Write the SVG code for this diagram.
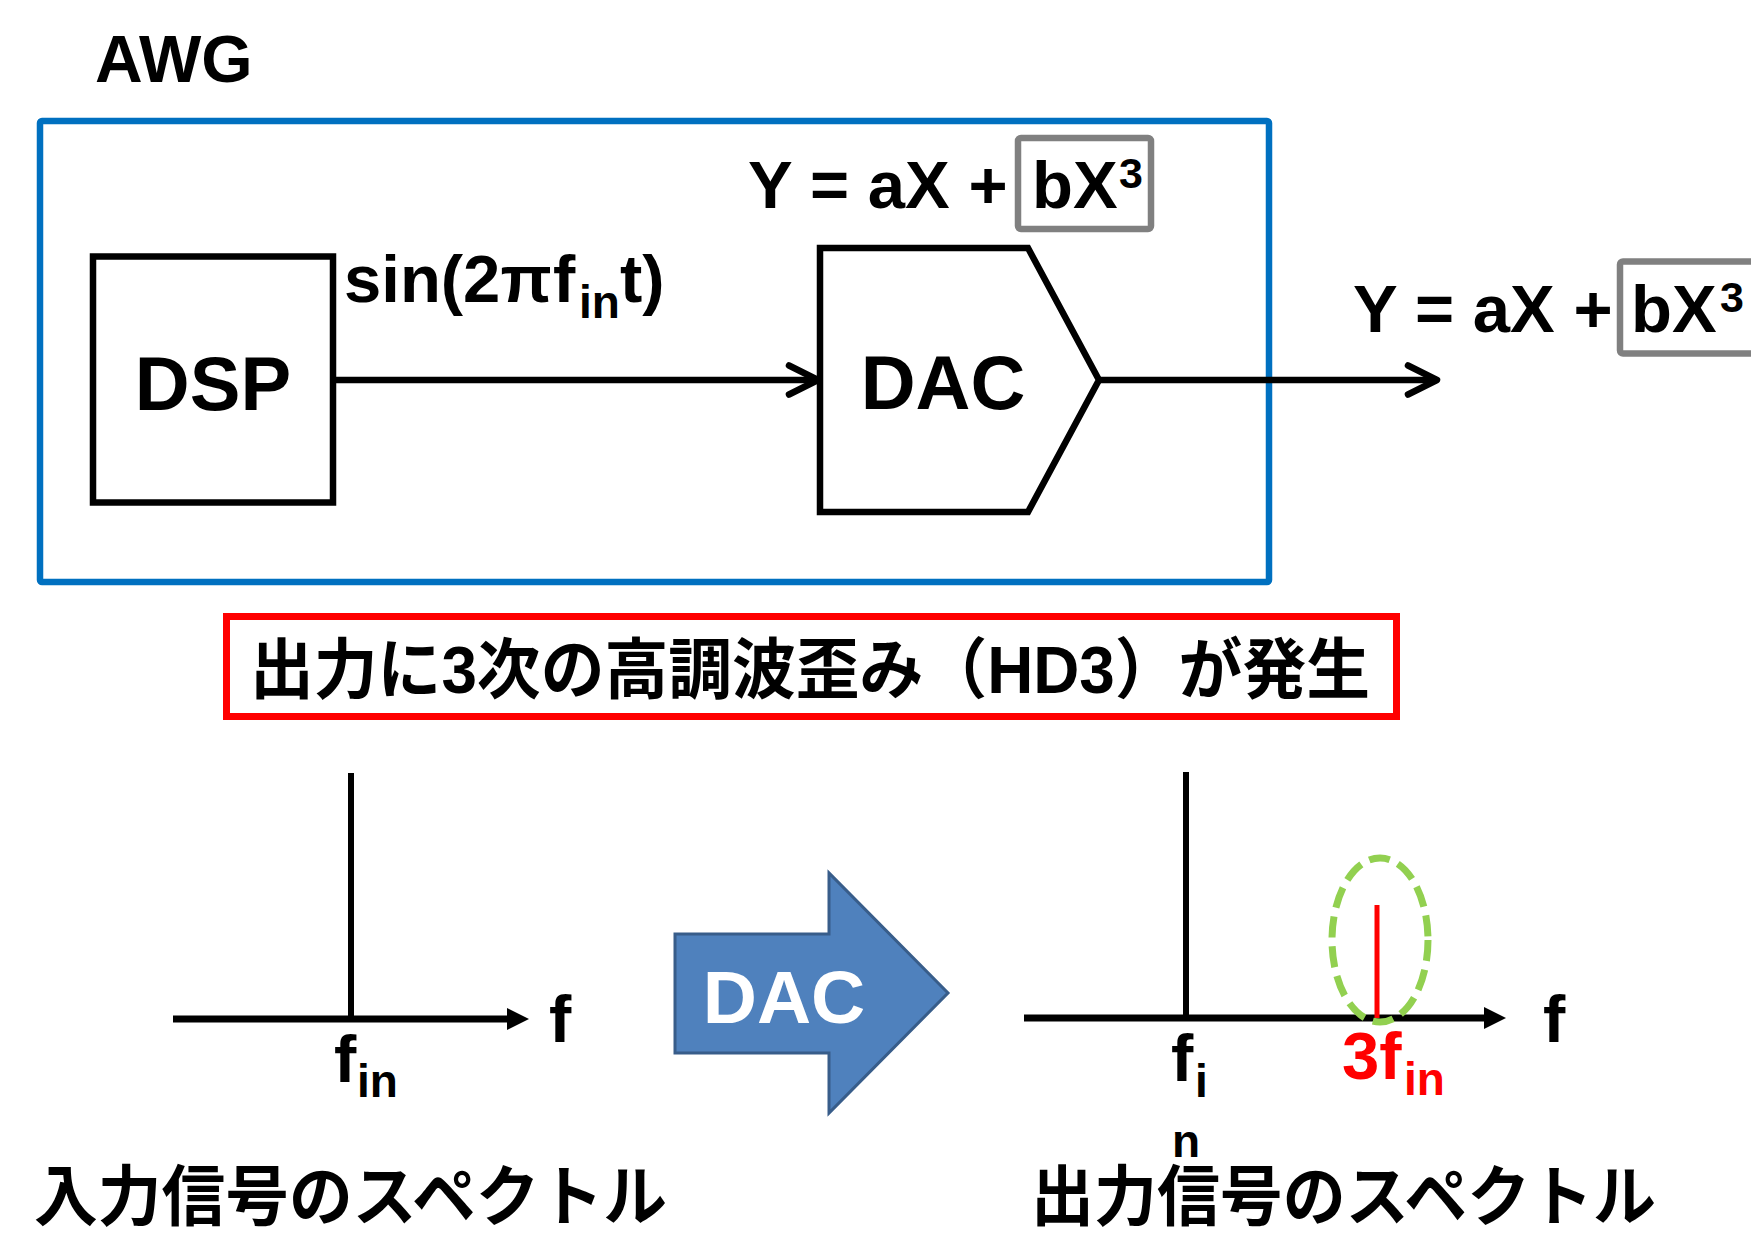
<svg xmlns="http://www.w3.org/2000/svg" width="1751" height="1235" viewBox="0 0 1751 1235">
<defs>
<style>
.lat{font-family:"Liberation Sans",Arial,sans-serif;font-weight:bold;fill:#000}
.jp{font-family:"Liberation Sans","Noto Sans CJK JP",sans-serif;font-weight:bold;fill:#000}
.blk{fill:#fff;stroke:#000;stroke-width:6.5}
.gray{fill:none;stroke:#808080;stroke-width:6.5}
.conn{fill:none;stroke:#000;stroke-width:6.5}
.axis{fill:none;stroke:#000;stroke-width:7}
.peak{fill:none;stroke:#000;stroke-width:6}
</style>
<marker id="chev" markerUnits="userSpaceOnUse" markerWidth="44" markerHeight="44" viewBox="0 0 44 44" refX="34" refY="22" orient="auto">
<path d="M5,7.5 L34,22 L5,36.5" fill="none" stroke="#000" stroke-width="6.5" stroke-linecap="round" stroke-linejoin="round"/>
</marker>
</defs>
<rect width="1751" height="1235" fill="#fff"/>

<g id="awg-label"><text class="lat" x="95" y="82" font-size="66">AWG</text></g>
<g id="awg-frame"><rect x="40" y="121" width="1229" height="461" fill="none" stroke="#0070C0" stroke-width="6.5" rx="2"/></g>

<g id="dsp">
<rect class="blk" x="93" y="256.5" width="240" height="246"/>
<text class="lat" x="213" y="410" font-size="76" text-anchor="middle">DSP</text>
</g>

<g id="dac">
<polygon class="blk" points="820,248 1028,248 1099,380 1028,512 820,512"/>
<text class="lat" x="943" y="409" font-size="76" text-anchor="middle">DAC</text>
</g>

<g id="eq-dac">
<rect class="gray" x="1018" y="138" width="133" height="91" rx="3"/>
<text class="lat" font-size="67" y="208"><tspan x="748">Y = aX +</tspan><tspan x="1032">bX</tspan><tspan x="1119" y="188" font-size="43">3</tspan></text>
</g>

<g id="eq-out">
<rect class="gray" x="1620" y="261.5" width="160" height="92" rx="3"/>
<text class="lat" font-size="67" y="332"><tspan x="1353">Y = aX +</tspan><tspan x="1631">bX</tspan><tspan x="1720" y="312" font-size="43">3</tspan></text>
</g>

<g id="sin-label">
<text class="lat" font-size="67" y="302"><tspan x="344">sin(2π</tspan><tspan x="553">f</tspan><tspan x="579" y="318" font-size="46">in</tspan><tspan x="620" y="302">t)</tspan></text>
</g>

<g id="connectors">
<line class="conn" x1="336" y1="380" x2="818" y2="380" marker-end="url(#chev)"/>
<line class="conn" x1="1099" y1="380" x2="1437" y2="380" marker-end="url(#chev)"/>
</g>

<g id="hd3-note">
<rect x="226.5" y="616.5" width="1170" height="100" fill="#fff" stroke="#FF0000" stroke-width="7"/>
<text class="jp" x="250" y="693" font-size="66" textLength="1120" lengthAdjust="spacingAndGlyphs">出力に3次の高調波歪み（HD3）が発生</text>
</g>

<g id="input-spectrum">
<line class="axis" x1="173" y1="1019" x2="512" y2="1019"/>
<polygon points="507,1008 529,1019 507,1030" fill="#000"/>
<line class="peak" x1="351" y1="773" x2="351" y2="1019"/>
<text class="lat" x="549" y="1042" font-size="67">f</text>
<text class="lat" font-size="67" y="1082"><tspan x="334">f</tspan><tspan x="357" y="1097" font-size="46">in</tspan></text>
<text class="jp" x="34" y="1220" font-size="66" textLength="633" lengthAdjust="spacingAndGlyphs">入力信号のスペクトル</text>
</g>

<g id="dac-arrow">
<polygon points="675,934 829,934 829,873 948,993 829,1113 829,1053 675,1053" fill="#4F81BD" stroke="#385D8A" stroke-width="3"/>
<text class="lat" x="784" y="1023" font-size="75" text-anchor="middle" fill="#fff" style="fill:#fff">DAC</text>
</g>

<g id="output-spectrum">
<line class="axis" x1="1024" y1="1018" x2="1489" y2="1018"/>
<polygon points="1484,1007 1506,1018 1484,1029" fill="#000"/>
<line class="peak" x1="1186" y1="772" x2="1186" y2="1018"/>
<line x1="1377" y1="905" x2="1377" y2="1018" stroke="#FF0000" stroke-width="5"/>
<ellipse cx="1380" cy="940" rx="48" ry="82" fill="none" stroke="#92D050" stroke-width="7" stroke-dasharray="21 9"/>
<text class="lat" x="1543" y="1042" font-size="67">f</text>
<text class="lat" x="1171" y="1081" font-size="67">f</text>
<text class="lat" x="1195" y="1097" font-size="46">i</text>
<text class="lat" x="1172" y="1157" font-size="46">n</text>
<text class="lat" font-size="67" y="1079" style="fill:#FF0000"><tspan x="1342">3f</tspan><tspan x="1404" y="1095" font-size="46">in</tspan></text>
<text class="jp" x="1031" y="1220" font-size="66" textLength="625" lengthAdjust="spacingAndGlyphs">出力信号のスペクトル</text>
</g>
</svg>
